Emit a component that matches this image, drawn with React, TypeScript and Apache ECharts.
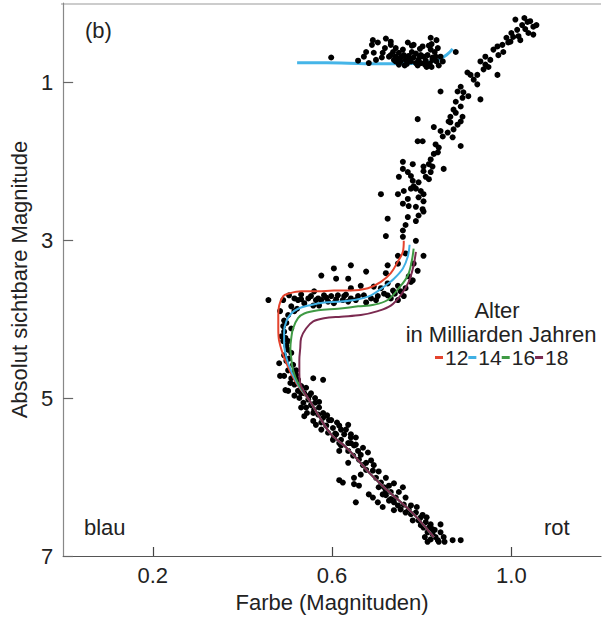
import React, { useEffect, useRef } from "react";
import * as echarts from "echarts";

// [Farbe, absolute Magnitude]
const horizontalBranch: number[][] = [
  [0.598,0.69],[0.658,0.73],[0.671,0.68],[0.682,0.76],[0.689,0.53],[0.702,0.50],[0.731,0.49],[0.742,0.57],[0.711,0.69],[0.691,0.47],[0.720,0.45],[0.731,0.53],[0.693,0.63],[0.713,0.63],[0.727,0.68],[0.738,0.72],[0.769,0.50],[0.782,0.53],[0.802,0.55],[0.820,0.44],[0.824,0.72],[0.876,0.62],[0.778,0.54],[0.796,0.58],[0.822,0.52],[0.833,0.47],[0.731,0.66],[0.742,0.68],[0.749,0.63],[0.753,0.69],[0.760,0.66],[0.764,0.72],[0.771,0.67],[0.776,0.74],[0.782,0.69],[0.787,0.64],[0.793,0.72],[0.798,0.76],[0.804,0.68],[0.809,0.73],[0.813,0.66],[0.818,0.77],[0.824,0.69],[0.829,0.62],[0.833,0.74],[0.838,0.79],[0.842,0.68],[0.753,0.74],[0.744,0.72],[0.736,0.62],[0.791,0.79],[0.811,0.81],[0.778,0.62],[0.767,0.77],[0.758,0.59],[0.836,0.57],[0.820,0.59],[0.718,0.57],[0.698,0.72],[0.676,0.62],[0.749,0.78],[0.798,0.66],[0.816,0.54],[0.847,0.74],
  [0.742,0.74],[0.762,0.79],[0.787,0.76],[0.807,0.78],[0.822,0.81],[0.831,0.68],[0.773,0.71],[0.796,0.68]
];

const giantBranch: number[][] = [
  [1.036,0.24],[1.049,0.30],[1.024,0.28],[1.013,0.34],[1.038,0.38],[1.049,0.40],[1.004,0.43],[1.020,0.47],[0.993,0.50],[0.980,0.53],[0.969,0.55],[0.960,0.59],[0.982,0.62],[0.998,0.49],[0.971,0.66],[0.942,0.68],[0.931,0.74],[0.949,0.81],[0.938,0.84],[0.969,0.91],[0.924,0.91],[0.909,0.91],[0.902,0.88],[0.916,0.97],[0.924,1.03],[0.887,1.06],[0.880,1.12],[0.893,1.13],[0.904,1.18],[0.891,1.20],[0.931,1.22],[0.842,1.12],[0.876,1.25],[0.871,1.35],[0.887,1.31],[0.876,1.39],[0.864,1.44],[0.891,1.44],[0.791,1.47],[0.860,1.50],[0.880,1.54],[0.827,1.57],[0.842,1.62],[0.858,1.64],[0.869,1.70],[1.009,0.21],[1.029,0.19],[1.042,0.23],[1.056,0.28],[1.031,0.33],[1.000,0.38],[0.989,0.44],[1.016,0.42],[0.953,0.72],[0.942,0.78],
  [0.864,1.51],[0.887,1.50],[0.871,1.60],[0.847,1.69],[0.831,1.79],[0.838,1.83],[0.836,1.89],[0.791,1.75],[0.802,1.75],[0.887,1.81],[0.827,1.91],[0.820,1.98],[0.816,2.04],[0.804,2.07],[0.824,2.07],[0.758,2.01],[0.780,2.04],[0.758,2.10],[0.849,2.10],[0.804,2.13],[0.820,2.14],[0.769,2.14],[0.776,2.19],[0.749,2.20],[0.809,2.20],[0.816,2.23],[0.793,2.27],[0.780,2.25],[0.782,2.32],[0.776,2.35],[0.787,2.35],[0.798,2.38],[0.804,2.42],[0.760,2.38],[0.747,2.42],[0.709,2.42],[0.769,2.48],[0.793,2.46],[0.804,2.51],[0.758,2.54],[0.771,2.57],[0.787,2.58],[0.802,2.61],[0.793,2.69],[0.787,2.76],[0.804,2.64],[0.724,2.73],[0.769,2.71],[0.764,2.81],[0.758,2.88],[0.720,2.95],[0.758,2.96],[0.787,3.01]
];

const subgiantBranch: number[][] = [
  [0.747,3.20],[0.764,3.17],[0.804,3.20],[0.747,3.30],[0.782,3.30],[0.791,3.39],[0.780,3.51],[0.724,3.32],[0.720,3.42],[0.676,3.40],[0.642,3.32],[0.604,3.36],[0.576,3.45],[0.636,3.49],[0.609,3.49],[0.664,3.58],[0.642,3.61],[0.693,3.59],[0.709,3.61],[0.724,3.55],[0.747,3.58],[0.753,3.65],[0.760,3.71],[0.747,3.76],[0.724,3.70],[0.702,3.71],[0.687,3.74],[0.671,3.70],[0.658,3.71],[0.642,3.74],[0.627,3.71],[0.613,3.70],[0.598,3.71],[0.582,3.70],[0.569,3.74],[0.553,3.71],[0.560,3.65],[0.547,3.74],[0.538,3.80],[0.558,3.83],[0.571,3.83],[0.591,3.78],[0.604,3.80],[0.624,3.76],[0.524,3.76],[0.504,3.70],[0.491,3.76],[0.458,3.76],[0.509,3.84],[0.516,3.90],[0.502,3.95],[0.493,4.02],[0.491,4.09],[0.493,4.16],[0.487,4.22],[0.502,4.28],[0.498,4.34],[0.531,3.69],[0.636,3.78],[0.676,3.79],[0.731,3.74],[0.740,3.68],[0.764,3.61],[0.776,3.53],[0.576,3.76],[0.522,3.87],
  [0.516,3.74],[0.531,3.75],[0.564,3.76],[0.587,3.73],[0.609,3.75],[0.631,3.69],[0.653,3.76],[0.698,3.76],[0.716,3.68],[0.736,3.64],[0.771,3.46],[0.498,4.05],[0.484,3.90],[0.509,4.12]
];

const mainSequence: number[][] = [
  [0.491,4.28],[0.502,4.39],[0.493,4.46],[0.504,4.50],[0.482,4.56],[0.498,4.53],[0.513,4.58],[0.502,4.65],[0.516,4.66],[0.493,4.72],[0.509,4.75],[0.524,4.77],[0.558,4.75],[0.580,4.77],[0.516,4.83],[0.531,4.85],[0.502,4.91],[0.524,4.91],[0.538,4.94],[0.527,5.00],[0.547,5.02],[0.536,5.06],[0.553,5.09],[0.542,5.12],[0.560,5.15],[0.569,5.21],[0.538,5.23],[0.593,5.28],[0.558,5.29],[0.576,5.31],[0.587,5.35],[0.602,5.38],[0.636,5.34],[0.576,5.40],[0.591,5.44],[0.609,5.46],[0.627,5.46],[0.642,5.50],[0.620,5.53],[0.636,5.57],[0.653,5.59],[0.602,5.53],[0.496,4.24],[0.509,4.43],[0.520,4.71],[0.542,4.87],[0.553,4.94],[0.562,5.00],[0.558,5.19],[0.580,5.25],[0.571,5.12],[0.616,5.35],[0.598,5.28],
  [0.604,5.50],[0.642,5.46],[0.616,5.57],[0.642,5.57],[0.649,5.60],[0.658,5.67],[0.636,5.67],[0.616,5.67],[0.647,5.73],[0.664,5.72],[0.636,5.82],[0.660,5.78],[0.676,5.82],[0.687,5.79],[0.691,5.92],[0.664,5.97],[0.649,6.01],[0.616,6.04],[0.624,6.07],[0.649,6.09],[0.660,6.11],[0.709,6.07],[0.704,6.13],[0.716,6.13],[0.727,6.11],[0.758,6.13],[0.682,6.22],[0.691,6.26],[0.713,6.22],[0.720,6.23],[0.702,6.32],[0.653,6.32],[0.713,6.38],[0.731,6.28],[0.738,6.32],[0.747,6.36],[0.753,6.41],[0.738,6.42],[0.764,6.45],[0.776,6.47],[0.787,6.45],[0.802,6.48],[0.780,6.55],[0.793,6.55],[0.798,6.61],[0.804,6.64],[0.816,6.64],[0.842,6.60],[0.813,6.70],[0.824,6.72],[0.831,6.76],[0.820,6.79],[0.836,6.80],[0.849,6.76],[0.813,6.82],[0.838,6.82],[0.869,6.80],[0.887,6.80],[0.720,6.17],[0.731,6.19],[0.742,6.26],[0.727,6.30],[0.760,6.35],[0.771,6.41],[0.809,6.57],[0.824,6.66],[0.698,6.01],[0.676,5.91],[0.620,5.60],[0.607,5.45],[0.669,5.85],
  [0.520,4.65],[0.531,4.94],[0.549,4.97],[0.562,5.06],[0.571,5.05],[0.544,5.19],[0.580,5.19],[0.589,5.22],[0.564,5.34],[0.611,5.31],[0.620,5.40],[0.631,5.40],[0.653,5.50],[0.669,5.63],[0.680,5.69],[0.693,5.85],[0.704,5.93],[0.720,6.01],[0.738,6.08],[0.749,6.19],[0.764,6.26],[0.776,6.36],[0.789,6.38],[0.798,6.51],[0.811,6.51],[0.820,6.60],[0.829,6.67],[0.842,6.70],[0.851,6.82],[0.807,6.76],[0.507,4.81],[0.496,4.90],[0.484,4.72],[0.516,4.97],[0.531,5.12]
];

// Isochrones (Alter in Milliarden Jahren)
const msTail: number[][] = [[0.553,5.06],[0.576,5.28],[0.598,5.46],[0.636,5.65],[0.687,5.97],[0.724,6.17],[0.782,6.47],[0.827,6.76]];
const iso12: number[][] = [[0.760,3.01],[0.758,3.15],[0.747,3.27],[0.731,3.42],[0.709,3.53],[0.680,3.61],[0.642,3.64],[0.604,3.64],[0.569,3.65],[0.531,3.65],[0.502,3.68],[0.491,3.71],[0.482,3.83],[0.480,3.95],[0.480,4.12],[0.482,4.28],[0.498,4.56],[0.520,4.81]];
const iso14: number[][] = [[0.773,3.06],[0.769,3.21],[0.758,3.36],[0.738,3.49],[0.716,3.59],[0.687,3.70],[0.658,3.75],[0.620,3.78],[0.582,3.79],[0.547,3.83],[0.524,3.87],[0.509,3.93],[0.498,4.03],[0.493,4.16],[0.493,4.31],[0.502,4.56],[0.522,4.81]];
const iso16: number[][] = [[0.782,3.11],[0.778,3.26],[0.769,3.45],[0.749,3.61],[0.724,3.76],[0.693,3.82],[0.658,3.84],[0.613,3.87],[0.569,3.89],[0.538,3.93],[0.524,3.99],[0.513,4.12],[0.509,4.24],[0.507,4.37],[0.509,4.50],[0.513,4.65],[0.524,4.81]];
const iso18: number[][] = [[0.787,3.15],[0.782,3.32],[0.771,3.53],[0.753,3.70],[0.731,3.83],[0.702,3.90],[0.664,3.95],[0.620,3.97],[0.582,3.99],[0.558,4.03],[0.542,4.12],[0.531,4.24],[0.529,4.37],[0.527,4.52],[0.527,4.68],[0.531,4.85]];
const hbLine: number[][] = [[0.522,0.755],[0.62,0.76],[0.709,0.77],[0.78,0.765],[0.809,0.755],[0.836,0.72],[0.856,0.655],[0.869,0.58]];

const ages = ["12", "14", "16", "18"];
const ageColors = ["#e4432d", "#3fb0e4", "#3f9a44", "#7b2a50"];
const xTicks = [0.2, 0.6, 1.0];
const yTicks = [1, 3, 5, 7];

const FONT = "Liberation Sans, Arial, Helvetica, sans-serif";
const FS = 22;

export default function App() {
  const ref = useRef<HTMLDivElement>(null);
  useEffect(() => {
    if (!ref.current) return;
    const chart = echarts.init(ref.current, undefined, { renderer: "svg" });
    const isoData = [iso12, iso14, iso16, iso18];
    const stars = [...horizontalBranch, ...giantBranch, ...subgiantBranch, ...mainSequence];
    chart.setOption({
      animation: false,
      backgroundColor: "#ffffff",
      textStyle: { fontFamily: FONT },
      grid: { left: 61, right: 6, top: 3, bottom: 59, containLabel: false },
      xAxis: {
        type: "value",
        min: 0,
        max: 1.2,
        position: "bottom",
        name: "Farbe (Magnituden)",
        nameLocation: "middle",
        nameGap: 35,
        nameTextStyle: { fontSize: FS, color: "#222", fontFamily: FONT },
        axisLine: { show: true, onZero: false, lineStyle: { color: "#555", width: 1.2 } },
        axisTick: { show: true, inside: true, length: 9, customValues: xTicks, lineStyle: { color: "#444", width: 1.2 } },
        axisLabel: { customValues: xTicks, fontSize: FS, color: "#222", margin: 8, fontFamily: FONT, formatter: (v: number) => v.toFixed(1) },
        splitLine: { show: false },
      },
      yAxis: {
        type: "value",
        min: 0,
        max: 7,
        inverse: true,
        name: "Absolut sichtbare Magnitude",
        nameLocation: "middle",
        nameGap: 23,
        nameRotate: 90,
        nameTextStyle: { fontSize: FS, color: "#222", fontFamily: FONT },
        axisLine: { show: true, onZero: false, lineStyle: { color: "#888", width: 1.2 } },
        axisTick: { show: true, inside: true, length: 10, customValues: yTicks, lineStyle: { color: "#666", width: 1.2 } },
        axisLabel: { customValues: yTicks, fontSize: FS, color: "#222", margin: 10, fontFamily: FONT },
        splitLine: { show: false },
      },
      legend: {
        data: ages,
        left: 430,
        top: 342,
        icon: "rect",
        itemWidth: 8,
        itemHeight: 3,
        itemGap: 0,
        textStyle: { fontSize: 21, color: "#222", fontFamily: FONT, padding: [0, 0, 0, -3] },
        selectedMode: false,
      },
      graphic: [
        { type: "line", shape: { x1: 61, y1: 4, x2: 601, y2: 4 }, style: { stroke: "#999", lineWidth: 1.2 } },
        { type: "text", x: 85, y: 30, style: { text: "(b)", font: `${FS}px ${FONT}`, fill: "#222", verticalAlign: "middle" } },
        { type: "text", x: 84, y: 527, style: { text: "blau", font: `${FS}px ${FONT}`, fill: "#222", verticalAlign: "middle" } },
        { type: "text", x: 544, y: 527, style: { text: "rot", font: `${FS}px ${FONT}`, fill: "#222", verticalAlign: "middle" } },
        { type: "text", x: 497, y: 310, style: { text: "Alter", font: `${FS}px ${FONT}`, fill: "#222", align: "center", verticalAlign: "middle" } },
        { type: "text", x: 501, y: 334, style: { text: "in Milliarden Jahren", font: `${FS}px ${FONT}`, fill: "#222", align: "center", verticalAlign: "middle" } },
      ],
      series: [
        {
          name: "HB",
          type: "line",
          data: hbLine,
          smooth: 0.4,
          symbol: "none",
          lineStyle: { color: "#45b5e8", width: 3 },
          z: 2,
        },
        {
          name: "Sterne",
          type: "scatter",
          data: stars,
          symbol: "circle",
          symbolSize: 6,
          itemStyle: { color: "#000000", opacity: 1 },
          z: 3,
        },
        ...ages.map((a, i) => ({
          name: a,
          type: "line",
          data: [...isoData[i], ...msTail],
          smooth: 0.35,
          symbol: "none",
          lineStyle: { color: ageColors[i], width: 2 },
          itemStyle: { color: ageColors[i] },
          z: 4 + i,
        })),
      ],
    });
    return () => chart.dispose();
  }, []);
  return <div ref={ref} style={{ position: "fixed", left: 0, top: 0, width: 607, height: 618 }} />;
}
